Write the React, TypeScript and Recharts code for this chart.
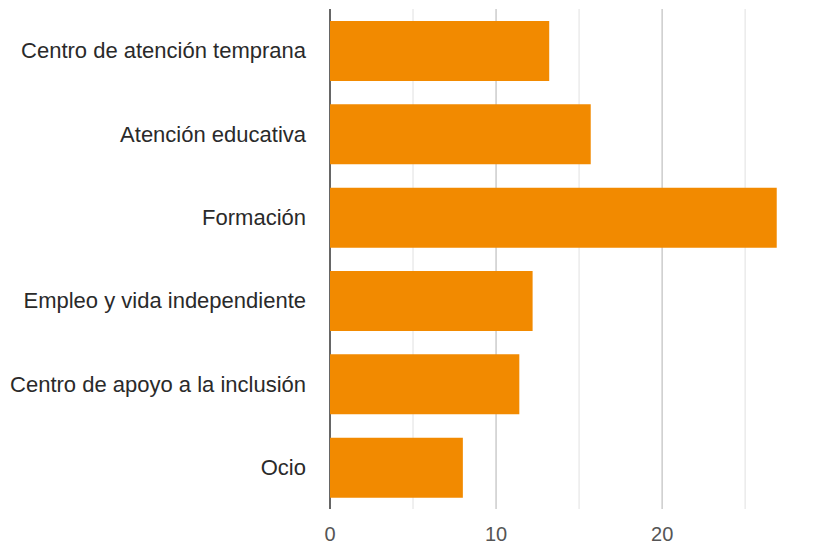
import React from 'react';
import { BarChart, Bar, XAxis, YAxis, CartesianGrid } from 'recharts';

const categories = [
  'Centro de atención temprana',
  'Atención educativa',
  'Formación',
  'Empleo y vida independiente',
  'Centro de apoyo a la inclusión',
  'Ocio',
];
const values = [13.2, 15.7, 26.9, 12.2, 11.4, 8.0];
const xTicks = [0, 10, 20];
const majorGrid = [10, 20];
const minorGrid = [5, 15, 25];
const zeroLine = [0];

const data = categories.map((name, i) => ({ name, value: values[i] }));

const FONT = '"Liberation Sans", Arial, sans-serif';

export default function App() {
  return (
    <div style={{ position: 'absolute', left: 0, top: 0, fontFamily: FONT }}>
      <BarChart
        width={819}
        height={546}
        data={data}
        layout="vertical"
        margin={{ top: 9, right: 24, bottom: 0, left: 0 }}
        barCategoryGap={0}
      >
        <CartesianGrid horizontal={false} verticalValues={minorGrid} stroke="#ebebeb" strokeWidth={1.5} />
        <CartesianGrid horizontal={false} verticalValues={majorGrid} stroke="#cccccc" strokeWidth={1.5} />
        <CartesianGrid horizontal={false} verticalValues={zeroLine} stroke="#333333" strokeWidth={1.5} />
        <XAxis
          type="number"
          domain={[0, 28]}
          ticks={xTicks}
          tickLine={false}
          axisLine={false}
          tickSize={0}
          tickMargin={18}
          height={37}
          tick={{ fill: '#555', fontSize: 20, fontFamily: FONT }}
          interval={0}
        />
        <YAxis
          type="category"
          dataKey="name"
          width={330}
          tickLine={false}
          axisLine={false}
          tickSize={0}
          tickMargin={24}
          interval={0}
          tick={{ fill: '#2a2a2a', fontSize: 22, fontFamily: FONT }}
        />
        <Bar dataKey="value" fill="#F28A00" barSize={60} isAnimationActive={false} />
      </BarChart>
    </div>
  );
}
